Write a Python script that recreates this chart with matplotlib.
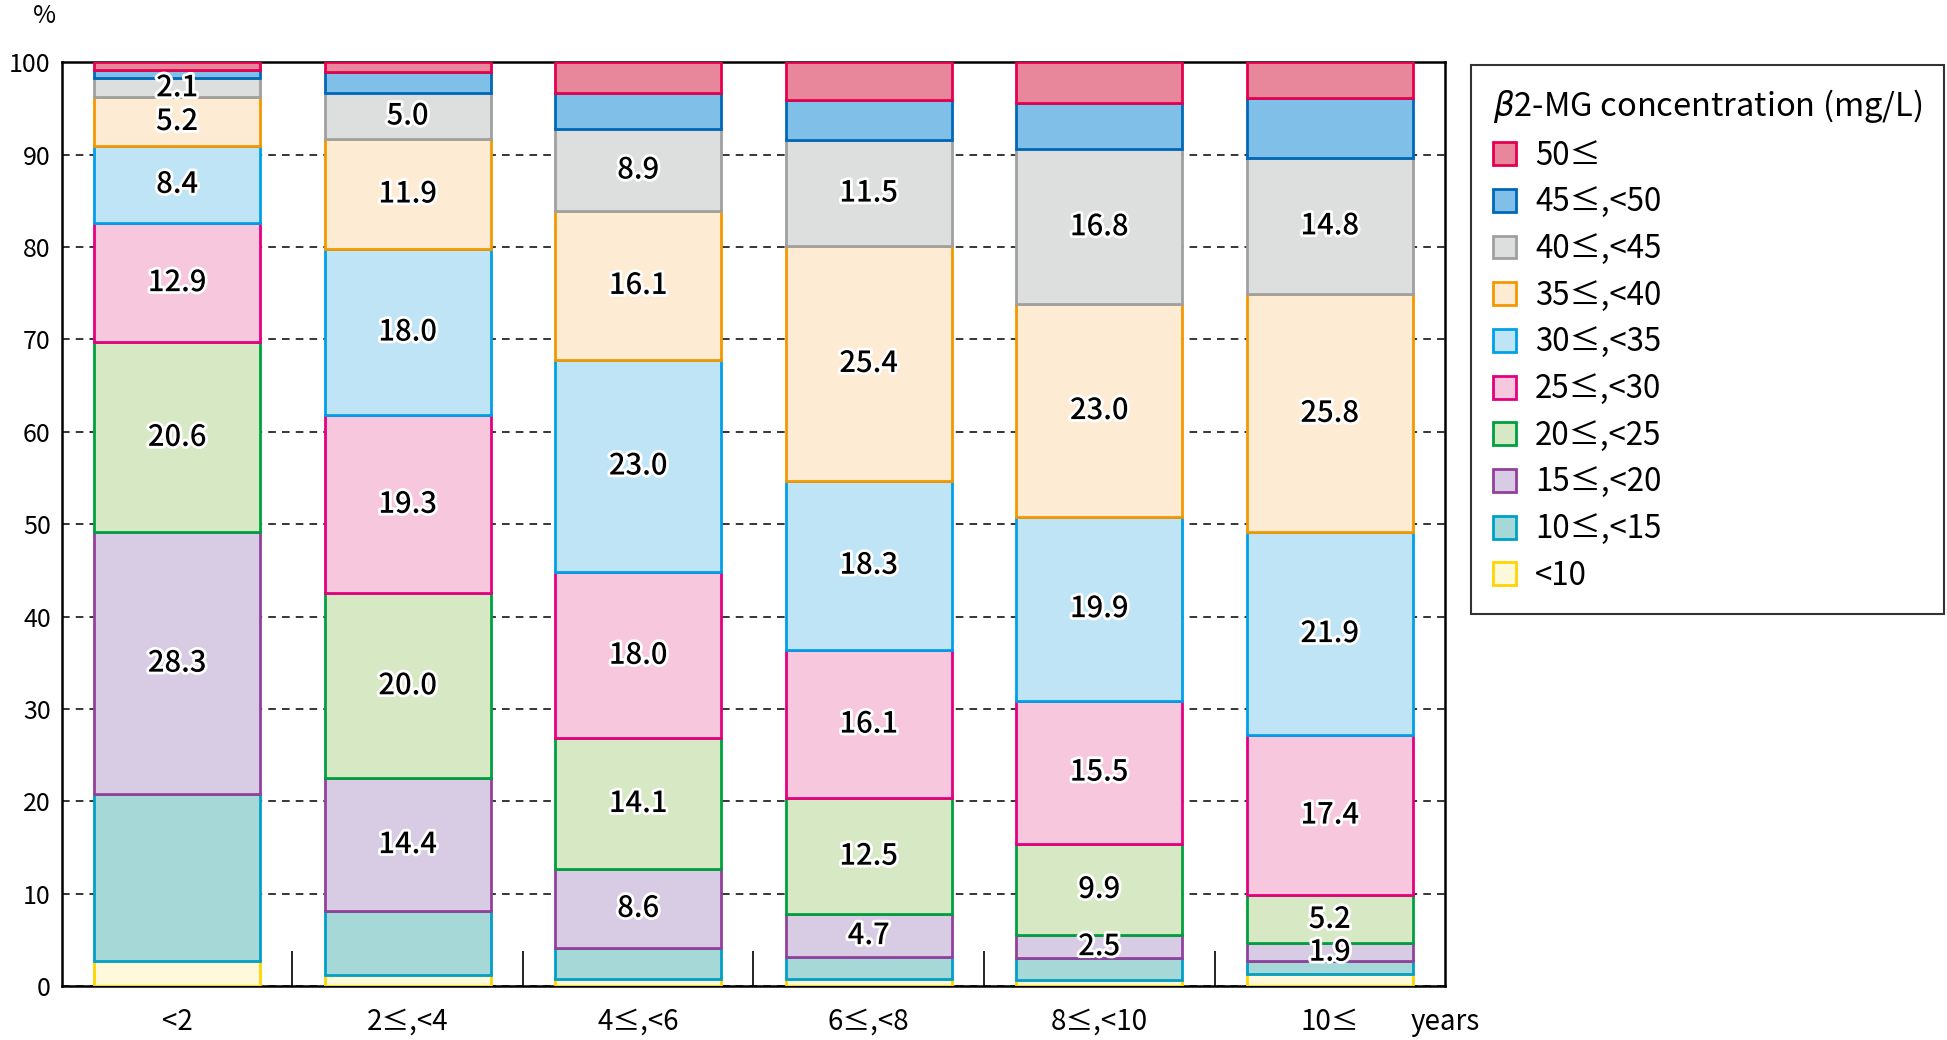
import matplotlib
matplotlib.use("Agg")
import numpy as np
import matplotlib.pyplot as plt
from matplotlib.patches import Patch
import matplotlib.patheffects as pe

plt.rcParams['font.family'] = ['Noto Sans CJK JP', 'DejaVu Sans']

age_groups = ["<2", "2≤,<4", "4≤,<6", "6≤,<8", "8≤,<10", "10≤"]

# bottom to top
bands = ["<10", "10≤,<15", "15≤,<20", "20≤,<25", "25≤,<30",
         "30≤,<35", "35≤,<40", "40≤,<45", "45≤,<50", "50≤"]

lt10 = [2.7, 1.2, 0.7, 0.7, 0.6, 1.3]
b10_15 = [18.1, 6.9, 3.4, 2.4, 2.4, 1.4]
b15_20 = [28.3, 14.4, 8.6, 4.7, 2.5, 1.9]
b20_25 = [20.6, 20.0, 14.1, 12.5, 9.9, 5.2]
b25_30 = [12.9, 19.3, 18.0, 16.1, 15.5, 17.4]
b30_35 = [8.4, 18.0, 23.0, 18.3, 19.9, 21.9]
b35_40 = [5.2, 11.9, 16.1, 25.4, 23.0, 25.8]
b40_45 = [2.1, 5.0, 8.9, 11.5, 16.8, 14.8]
b45_50 = [0.9, 2.3, 3.9, 4.3, 5.0, 6.4]
ge50 = [0.8, 1.0, 3.3, 4.1, 4.4, 3.9]

series = [lt10, b10_15, b15_20, b20_25, b25_30, b30_35, b35_40, b40_45, b45_50, ge50]
labelled = [False, False, True, True, True, True, True, True, False, False]

fills = ["#FFF9DC", "#A5D8D6", "#D8CCE4", "#D6E8C4", "#F6C7DD",
         "#BFE4F6", "#FDEBD4", "#DDDEDE", "#80BFE8", "#E8879C"]
edges = ["#FFD400", "#00A0C8", "#92409A", "#00A040", "#E4007F",
         "#00A0E9", "#F39800", "#A0A0A0", "#0068B7", "#E5004F"]

fig = plt.figure(figsize=(19.47, 10.40), dpi=100)
ax = fig.add_axes([0.0318, 0.052, 0.7104, 0.888])

x = np.arange(len(age_groups))
bottom = np.zeros(len(age_groups))
for vals, fc, ec, lab in zip(series, fills, edges, labelled):
    vals = np.array(vals)
    ax.bar(x, vals, 0.72, bottom=bottom, color=fc, edgecolor=ec, linewidth=2.0, zorder=3)
    if lab:
        for xi, b, v in zip(x, bottom, vals):
            ax.text(xi, b + v / 2, f"{v:.1f}", ha="center", va="center", fontsize=21,
                    fontweight="medium", zorder=5,
                    path_effects=[pe.withStroke(linewidth=4, foreground="white")])
    bottom += vals

ax.set_xlim(-0.5, len(age_groups) - 0.5)
ax.set_ylim(0, 100)
ax.set_yticks(np.arange(0, 101, 10))
ax.tick_params(axis="y", length=0, labelsize=18, pad=8)
ax.set_xticks(x)
ax.set_xticklabels(age_groups)
ax.tick_params(axis="x", length=0, labelsize=20, pad=15)
ax.set_xticks(x[:-1] + 0.5, minor=True)
ax.tick_params(axis="x", which="minor", direction="in", length=25, width=1.2, color="black")
ax.grid(axis="y", color="black", linestyle=(0, (5, 4)), linewidth=1.1, zorder=0)
for s in ax.spines.values():
    s.set_color("black")
    s.set_linewidth(1.8)

fig.text(0.017, 0.997, "%", fontsize=18, ha="left", va="top")
ax.annotate("years", xy=(1.0, 0.0), xycoords="axes fraction", xytext=(0, -15),
            textcoords="offset points", fontsize=20, ha="center", va="top")

handles = [Patch(facecolor=fc, edgecolor=ec, linewidth=2.0, label=lab)
           for fc, ec, lab in zip(fills[::-1], edges[::-1], bands[::-1])]
leg = fig.legend(handles=handles, loc="upper left", bbox_to_anchor=(0.7555, 0.9375),
                 borderaxespad=0,
                 title="$\\beta$2-MG concentration (mg/L)",
                 prop={"family": ["Noto Sans CJK JP", "DejaVu Sans"], "size": 22.5},
                 title_fontproperties={"family": ["Noto Sans CJK JP", "DejaVu Sans"], "size": 23.5},
                 alignment="left", frameon=True, fancybox=False, edgecolor="black",
                 handlelength=0.75, handleheight=0.75, handletextpad=0.6,
                 labelspacing=0.47, borderpad=0.7)
leg.get_frame().set_linewidth(1.5)

fig.savefig("out.png", dpi=100)
